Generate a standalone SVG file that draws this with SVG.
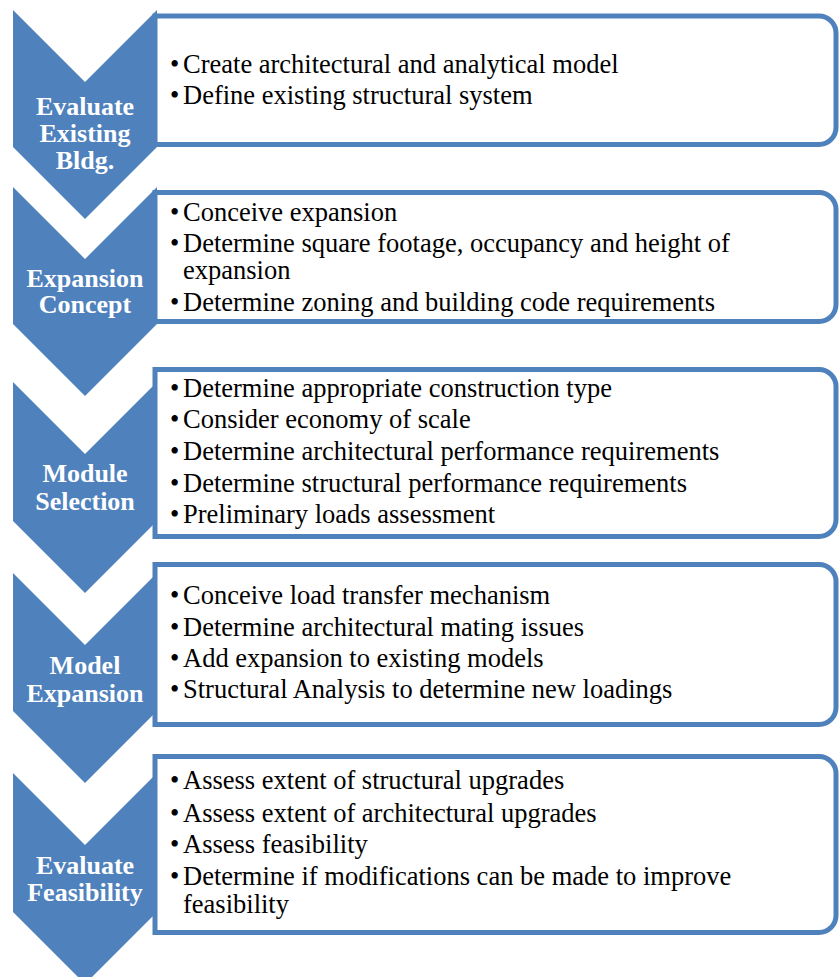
<svg xmlns="http://www.w3.org/2000/svg" width="839" height="977" viewBox="0 0 839 977">
  <style>
    .box { fill: #ffffff; stroke: #4F81BD; stroke-width: 5; }
    .chev { fill: #4F81BD; }
    .label { font-family: "Liberation Serif", "Times New Roman", serif; font-weight: bold; font-size: 26px; fill: #ffffff; text-anchor: middle; }
    .item { font-family: "Liberation Serif", "Times New Roman", serif; font-size: 26.5px; fill: #000000; }
  </style>
  <rect width="839" height="977" fill="#ffffff"/>

  <!-- Step 1 -->
  <g id="step-evaluate-existing">
    <path class="box" d="M155,16 H819 A17,17 0 0 1 836,33 V127.5 A17,17 0 0 1 819,144.5 H155 Z"/>
    <path class="chev" d="M13,10 L85,82 L157,10 L157,147 L85,219 L13,147 Z"/>
    <text class="label" x="85" y="115">Evaluate</text>
    <text class="label" x="85" y="142">Existing</text>
    <text class="label" x="85" y="169">Bldg.</text>
    <text class="item" x="170" y="72.7">•</text><text class="item" x="183" y="72.7">Create architectural and analytical model</text>
    <text class="item" x="170" y="104.3">•</text><text class="item" x="183" y="104.3">Define existing structural system</text>
  </g>

  <!-- Step 2 -->
  <g id="step-expansion-concept">
    <path class="box" d="M155,192.5 H819 A17,17 0 0 1 836,209.5 V304.5 A17,17 0 0 1 819,321.5 H155 Z"/>
    <path class="chev" d="M13,187 L85,259 L157,187 L157,324 L85,396 L13,324 Z"/>
    <text class="label" x="85" y="286.5">Expansion</text>
    <text class="label" x="85" y="313">Concept</text>
    <text class="item" x="170" y="220.7">•</text><text class="item" x="183" y="220.7">Conceive expansion</text>
    <text class="item" x="170" y="251.7">•</text><text class="item" x="183" y="251.7">Determine square footage, occupancy and height of</text>
    <text class="item" x="183" y="279.3">expansion</text>
    <text class="item" x="170" y="310.7">•</text><text class="item" x="183" y="310.7">Determine zoning and building code requirements</text>
  </g>

  <!-- Step 3 -->
  <g id="step-module-selection">
    <path class="box" d="M155,369.5 H819 A17,17 0 0 1 836,386.5 V519.5 A17,17 0 0 1 819,536.5 H155 Z"/>
    <path class="chev" d="M13,382 L85,454 L157,382 L157,521 L85,593 L13,521 Z"/>
    <text class="label" x="85" y="481.5">Module</text>
    <text class="label" x="85" y="510">Selection</text>
    <text class="item" x="170" y="396.7">•</text><text class="item" x="183" y="396.7">Determine appropriate construction type</text>
    <text class="item" x="170" y="428.3">•</text><text class="item" x="183" y="428.3">Consider economy of scale</text>
    <text class="item" x="170" y="460">•</text><text class="item" x="183" y="460">Determine architectural performance requirements</text>
    <text class="item" x="170" y="491.7">•</text><text class="item" x="183" y="491.7">Determine structural performance requirements</text>
    <text class="item" x="170" y="523.3">•</text><text class="item" x="183" y="523.3">Preliminary loads assessment</text>
  </g>

  <!-- Step 4 -->
  <g id="step-model-expansion">
    <path class="box" d="M155,564.5 H819 A17,17 0 0 1 836,581.5 V707.5 A17,17 0 0 1 819,724.5 H155 Z"/>
    <path class="chev" d="M13,573 L85,645 L157,573 L157,711 L85,783 L13,711 Z"/>
    <text class="label" x="85" y="673.5">Model</text>
    <text class="label" x="85" y="702">Expansion</text>
    <text class="item" x="170" y="604.3">•</text><text class="item" x="183" y="604.3">Conceive load transfer mechanism</text>
    <text class="item" x="170" y="636">•</text><text class="item" x="183" y="636">Determine architectural mating issues</text>
    <text class="item" x="170" y="667.3">•</text><text class="item" x="183" y="667.3">Add expansion to existing models</text>
    <text class="item" x="170" y="698.3">•</text><text class="item" x="183" y="698.3">Structural Analysis to determine new loadings</text>
  </g>

  <!-- Step 5 -->
  <g id="step-evaluate-feasibility">
    <path class="box" d="M155,756.5 H819 A17,17 0 0 1 836,773.5 V915.5 A17,17 0 0 1 819,932.5 H155 Z"/>
    <path class="chev" d="M13,773 L85,845 L157,773 L157,912 L85,984 L13,912 Z"/>
    <text class="label" x="85" y="873.5">Evaluate</text>
    <text class="label" x="85" y="901">Feasibility</text>
    <text class="item" x="170" y="789.3">•</text><text class="item" x="183" y="789.3">Assess extent of structural upgrades</text>
    <text class="item" x="170" y="821.7">•</text><text class="item" x="183" y="821.7">Assess extent of architectural upgrades</text>
    <text class="item" x="170" y="853.3">•</text><text class="item" x="183" y="853.3">Assess feasibility</text>
    <text class="item" x="170" y="885">•</text><text class="item" x="183" y="885">Determine if modifications can be made to improve</text>
    <text class="item" x="183" y="913.3">feasibility</text>
  </g>

  <!-- sequence runs top to bottom through the chevrons; no separate connectors -->
  <g id="connectors"/>
</svg>
